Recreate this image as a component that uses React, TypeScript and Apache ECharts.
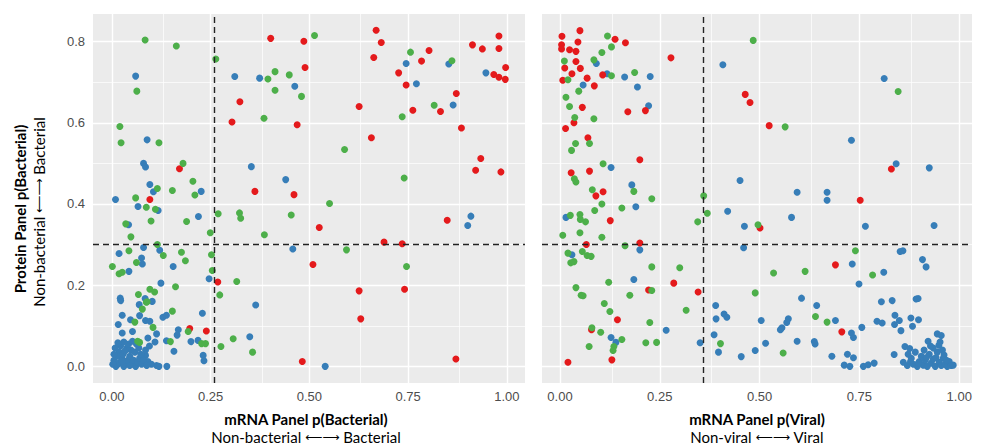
import React, { useEffect, useRef } from "react";
import * as echarts from "echarts";

const xTicks = [0, 0.25, 0.5, 0.75, 1];
const xMinor = [0.125, 0.375, 0.625, 0.875];
const yTicks = [0, 0.2, 0.4, 0.6, 0.8];
const yMinor = [0.1, 0.3, 0.5, 0.7];

const leftCut = { x: 0.262, y: 0.3 };
const rightCut = { x: 0.361, y: 0.3 };

const ARROW = "\u27F5\u27F6";
const leftTitle = "mRNA Panel p(Bacterial)";
const leftSub = ["Non-bacterial", "Bacterial"];
const rightTitle = "mRNA Panel p(Viral)";
const rightSub = ["Non-viral", "Viral"];
const yTitle = "Protein Panel p(Bacterial)";
const ySub = ["Non-bacterial", "Bacterial"];

const leftRed = [
  [0.402, 0.808], [0.324, 0.652], [0.304, 0.602], [0.469, 0.595], [0.171, 0.487], [0.362, 0.431], [0.461, 0.423], [0.096, 0.411],
  [0.486, 0.801], [0.489, 0.736], [0.669, 0.828], [0.682, 0.798], [0.663, 0.761], [0.803, 0.778], [0.784, 0.752], [0.726, 0.723],
  [0.745, 0.693], [0.913, 0.792], [0.938, 0.782], [0.98, 0.814], [0.98, 0.783], [0.997, 0.736], [0.967, 0.719], [0.98, 0.712],
  [0.996, 0.707], [0.872, 0.672], [0.832, 0.628], [0.762, 0.631], [0.626, 0.64], [0.885, 0.587], [0.657, 0.563], [0.934, 0.512],
  [0.921, 0.483], [0.985, 0.479], [0.268, 0.208], [0.197, 0.093], [0.239, 0.087], [0.482, 0.012], [0.525, 0.342], [0.689, 0.306],
  [0.735, 0.302], [0.509, 0.251], [0.626, 0.186], [0.741, 0.19], [0.63, 0.117], [0.871, 0.018], [0.849, 0.36],
];

const leftBlue = [
  [0.06, 0.715], [0.311, 0.714], [0.374, 0.71], [0.463, 0.69], [0.089, 0.558], [0.08, 0.5], [0.085, 0.491], [0.353, 0.492],
  [0.44, 0.46], [0.096, 0.448], [0.105, 0.43], [0.226, 0.431], [0.009, 0.411], [0.745, 0.746], [0.771, 0.696], [0.853, 0.745],
  [0.947, 0.723], [0.864, 0.644], [0.066, 0.394], [0.117, 0.384], [0.219, 0.369], [0.042, 0.349], [0.458, 0.289], [0.018, 0.278],
  [0.08, 0.293], [0.121, 0.286], [0.075, 0.267], [0.077, 0.252], [0.155, 0.246], [0.043, 0.234], [0.246, 0.216], [0.124, 0.205],
  [0.021, 0.168], [0.022, 0.162], [0.084, 0.167], [0.102, 0.16], [0.069, 0.152], [0.229, 0.131], [0.364, 0.151], [0.026, 0.126],
  [0.047, 0.115], [0.07, 0.125], [0.129, 0.121], [0.138, 0.126], [0.085, 0.113], [0.096, 0.111], [0.016, 0.103], [0.168, 0.09],
  [0.165, 0.077], [0.052, 0.086], [0.026, 0.082], [0.113, 0.08], [0.091, 0.07], [0.138, 0.063], [0.109, 0.06], [0.2, 0.061],
  [0.218, 0.064], [0.349, 0.073], [0.157, 0.037], [0.231, 0.027], [0.233, 0.014], [0.139, 0.0], [0.085, 0.027], [0.091, 0.012],
  [0.113, 0.002], [0.119, 0.0], [0.54, 0.0], [0.901, 0.347], [0.909, 0.37],
  [0.01, 0.0], [0.015, 0.005], [0.02, 0.01], [0.005, 0.015], [0.025, 0.02], [0.03, 0.0], [0.035, 0.008], [0.04, 0.015],
  [0.012, 0.025], [0.018, 0.035], [0.028, 0.03], [0.045, 0.025], [0.05, 0.005], [0.055, 0.015], [0.06, 0.0], [0.065, 0.01],
  [0.07, 0.02], [0.048, 0.04], [0.038, 0.045], [0.022, 0.05], [0.008, 0.045], [0.058, 0.035], [0.075, 0.005], [0.08, 0.015],
  [0.068, 0.045], [0.042, 0.055], [0.03, 0.06], [0.015, 0.058], [0.062, 0.055], [0.085, 0.04], [0.095, 0.05], [0.1, 0.005],
  [0.002, 0.005], [0.033, 0.038], [0.052, 0.062], [0.088, 0.002], [0.005, 0.03], [0.073, 0.03], [0.026, 0.012], [0.045, 0.002],
];

const leftGreen = [
  [0.084, 0.804], [0.163, 0.789], [0.263, 0.757], [0.063, 0.678], [0.395, 0.708], [0.413, 0.726], [0.413, 0.68], [0.449, 0.718],
  [0.48, 0.665], [0.385, 0.611], [0.02, 0.591], [0.023, 0.551], [0.119, 0.551], [0.18, 0.5], [0.205, 0.456], [0.115, 0.438],
  [0.153, 0.433], [0.21, 0.422], [0.06, 0.415], [0.513, 0.815], [0.756, 0.774], [0.861, 0.753], [0.816, 0.643], [0.735, 0.615],
  [0.589, 0.534], [0.74, 0.464], [0.087, 0.392], [0.11, 0.387], [0.189, 0.357], [0.099, 0.358], [0.035, 0.351], [0.048, 0.319],
  [0.249, 0.329], [0.269, 0.376], [0.323, 0.378], [0.326, 0.365], [0.386, 0.324], [0.454, 0.373], [0.043, 0.285], [0.115, 0.3],
  [0.13, 0.273], [0.176, 0.281], [0.186, 0.26], [0.062, 0.256], [0.001, 0.246], [0.018, 0.228], [0.026, 0.232], [0.252, 0.275],
  [0.254, 0.236], [0.316, 0.209], [0.273, 0.176], [0.161, 0.196], [0.096, 0.19], [0.108, 0.183], [0.067, 0.177], [0.089, 0.159],
  [0.077, 0.141], [0.153, 0.136], [0.058, 0.109], [0.104, 0.096], [0.193, 0.086], [0.148, 0.061], [0.227, 0.056], [0.237, 0.056],
  [0.307, 0.068], [0.276, 0.049], [0.356, 0.035], [0.551, 0.401], [0.594, 0.287], [0.746, 0.246], [0.087, 0.158], [0.07, 0.059],
  [0.065, 0.062],
];

const rightRed = [
  [0.005, 0.813], [0.05, 0.827], [0.138, 0.806], [0.045, 0.799], [0.164, 0.797], [0.004, 0.792], [0.004, 0.782], [0.024, 0.78],
  [0.04, 0.776], [0.04, 0.751], [0.278, 0.76], [0.012, 0.735], [0.051, 0.734], [0.03, 0.721], [0.107, 0.718], [0.068, 0.71],
  [0.007, 0.705], [0.086, 0.691], [0.464, 0.67], [0.476, 0.65], [0.056, 0.638], [0.214, 0.63], [0.17, 0.627], [0.035, 0.6],
  [0.014, 0.586], [0.07, 0.563], [0.2, 0.509], [0.028, 0.477], [0.074, 0.481], [0.108, 0.43], [0.09, 0.42], [0.524, 0.593],
  [0.83, 0.486], [0.752, 0.409], [0.501, 0.341], [0.69, 0.25], [0.706, 0.085], [0.126, 0.359], [0.066, 0.3], [0.2, 0.304],
  [0.285, 0.205], [0.222, 0.188], [0.346, 0.183], [0.144, 0.115], [0.079, 0.09], [0.13, 0.016], [0.02, 0.01],
];

const rightBlue = [
  [0.091, 0.746], [0.408, 0.743], [0.118, 0.721], [0.162, 0.713], [0.226, 0.714], [0.058, 0.693], [0.194, 0.688], [0.222, 0.642],
  [0.128, 0.49], [0.18, 0.447], [0.451, 0.458], [0.812, 0.709], [0.73, 0.557], [0.842, 0.499], [0.925, 0.489], [0.594, 0.429],
  [0.669, 0.429], [0.669, 0.409], [0.58, 0.367], [0.765, 0.345], [0.937, 0.347], [0.852, 0.283], [0.859, 0.285], [0.908, 0.263],
  [0.917, 0.245], [0.732, 0.252], [0.811, 0.232], [0.749, 0.203], [0.605, 0.168], [0.643, 0.15], [0.805, 0.159], [0.832, 0.162],
  [0.892, 0.166], [0.897, 0.167], [0.69, 0.113], [0.504, 0.113], [0.572, 0.117], [0.568, 0.108], [0.556, 0.095], [0.552, 0.09],
  [0.794, 0.111], [0.807, 0.107], [0.839, 0.126], [0.85, 0.113], [0.838, 0.103], [0.854, 0.088], [0.879, 0.119], [0.898, 0.115],
  [0.883, 0.099], [0.73, 0.082], [0.735, 0.071], [0.756, 0.096], [0.515, 0.057], [0.594, 0.062], [0.637, 0.061], [0.639, 0.055],
  [0.681, 0.025], [0.72, 0.03], [0.735, 0.021], [0.712, 0.003], [0.726, 0.0], [0.76, 0.0], [0.772, 0.004], [0.787, 0.008],
  [0.489, 0.039], [0.837, 0.029], [0.945, 0.08], [0.955, 0.076], [0.922, 0.062], [0.949, 0.052], [0.864, 0.049], [0.876, 0.044],
  [0.19, 0.393], [0.015, 0.367], [0.42, 0.382], [0.462, 0.345], [0.46, 0.292], [0.2, 0.287], [0.03, 0.275], [0.185, 0.214],
  [0.39, 0.15], [0.391, 0.117], [0.411, 0.129], [0.418, 0.121], [0.128, 0.071], [0.14, 0.059], [0.266, 0.089], [0.351, 0.058],
  [0.386, 0.078], [0.397, 0.035], [0.454, 0.024],
  [0.86, 0.01], [0.87, 0.002], [0.88, 0.02], [0.885, 0.005], [0.895, 0.0], [0.9, 0.012], [0.905, 0.025], [0.91, 0.003],
  [0.915, 0.015], [0.92, 0.0], [0.925, 0.03], [0.93, 0.008], [0.935, 0.018], [0.94, 0.0], [0.945, 0.035], [0.95, 0.01],
  [0.955, 0.002], [0.96, 0.02], [0.965, 0.005], [0.97, 0.0], [0.975, 0.012], [0.98, 0.002], [0.872, 0.03], [0.89, 0.035],
  [0.912, 0.04], [0.935, 0.045], [0.958, 0.04], [0.962, 0.028], [0.942, 0.022], [0.918, 0.022], [0.898, 0.008], [0.878, 0.012],
  [0.952, 0.06], [0.928, 0.05], [0.968, 0.015], [0.985, 0.003],
];

const rightGreen = [
  [0.119, 0.814], [0.129, 0.787], [0.105, 0.773], [0.011, 0.752], [0.085, 0.755], [0.484, 0.803], [0.187, 0.724], [0.129, 0.716],
  [0.02, 0.706], [0.047, 0.678], [0.015, 0.663], [0.024, 0.64], [0.037, 0.613], [0.085, 0.61], [0.039, 0.549], [0.074, 0.549],
  [0.029, 0.532], [0.108, 0.499], [0.036, 0.462], [0.04, 0.454], [0.185, 0.431], [0.081, 0.435], [0.23, 0.413], [0.36, 0.42],
  [0.847, 0.677], [0.564, 0.59], [0.496, 0.349], [0.74, 0.285], [0.535, 0.23], [0.614, 0.234], [0.783, 0.225], [0.489, 0.181],
  [0.64, 0.123], [0.669, 0.109], [0.559, 0.033], [0.155, 0.39], [0.105, 0.4], [0.087, 0.384], [0.026, 0.372], [0.05, 0.374],
  [0.051, 0.362], [0.064, 0.356], [0.007, 0.323], [0.05, 0.329], [0.105, 0.318], [0.163, 0.297], [0.369, 0.377], [0.345, 0.356],
  [0.02, 0.279], [0.056, 0.283], [0.068, 0.273], [0.078, 0.271], [0.027, 0.255], [0.035, 0.258], [0.23, 0.245], [0.3, 0.243],
  [0.122, 0.207], [0.23, 0.187], [0.04, 0.194], [0.053, 0.175], [0.058, 0.174], [0.175, 0.175], [0.111, 0.155], [0.125, 0.135],
  [0.316, 0.138], [0.225, 0.108], [0.08, 0.095], [0.102, 0.084], [0.155, 0.066], [0.073, 0.049], [0.135, 0.049], [0.133, 0.039],
  [0.215, 0.058], [0.242, 0.059], [0.402, 0.056],
];

const RED = "#E41A1C";
const BLUE = "#377EB8";
const GREEN = "#4DAF4A";
const TITLE_FONT = "Lato, 'Open Sans', sans-serif";
const TICK_FONT = "'Liberation Sans', Arial, sans-serif";

function gridLineData() {
  const major = { color: "#ffffff", width: 1.4, type: "solid" as const };
  const minor = { color: "#ffffff", width: 0.7, type: "solid" as const };
  return [
    ...xMinor.map((v) => ({ xAxis: v, lineStyle: minor })),
    ...yMinor.map((v) => ({ yAxis: v, lineStyle: minor })),
    ...xTicks.map((v) => ({ xAxis: v, lineStyle: major })),
    ...yTicks.map((v) => ({ yAxis: v, lineStyle: major })),
  ];
}

function cutData(cut: { x: number; y: number }) {
  const st = { color: "#222222", width: 1.4, type: [6, 4] as any };
  return [
    { xAxis: cut.x, lineStyle: st },
    { yAxis: cut.y, lineStyle: st },
  ];
}

function panelSeries(i: number, red: number[][], blue: number[][], green: number[][], cut: { x: number; y: number }) {
  const common = {
    type: "scatter" as const,
    xAxisIndex: i,
    yAxisIndex: i,
    symbolSize: 7,
    silent: true,
    z: 2,
  };
  return [
    {
      ...common,
      name: "blue" + i,
      data: blue,
      itemStyle: { color: BLUE, opacity: 1 },
      markLine: {
        silent: true,
        symbol: "none",
        z: 1,
        animation: false,
        label: { show: false },
        emphasis: { disabled: true },
        data: gridLineData(),
      },
    },
    {
      ...common,
      name: "red" + i,
      data: red,
      itemStyle: { color: RED, opacity: 1 },
      markLine: {
        silent: true,
        symbol: "none",
        z: 5,
        animation: false,
        label: { show: false },
        emphasis: { disabled: true },
        data: cutData(cut),
      },
    },
    {
      ...common,
      name: "green" + i,
      data: green,
      itemStyle: { color: GREEN, opacity: 1 },
    },
  ];
}

const richSub = {
  w: { fontFamily: TITLE_FONT, fontSize: 15, lineHeight: 14, color: "#000" },
  a: { fontFamily: "'DejaVu Sans', sans-serif", fontSize: 12, lineHeight: 14, color: "#000" },
};

function subText(parts: string[]) {
  return `{w|${parts[0]} }{a|${ARROW}}{w| ${parts[1]}}`;
}

export default function App() {
  const ref = useRef<HTMLDivElement>(null);
  useEffect(() => {
    if (!ref.current) return;
    const chart = echarts.init(ref.current, undefined, { renderer: "svg" });
    const xRanges = [
      { min: -0.048, max: 1.046 },
      { min: -0.045, max: 1.032 },
    ];
    const boldStyle = (text: string) => ({
      text,
      font: `bold 15px ${TITLE_FONT}`,
      fill: "#000",
      align: "center",
      verticalAlign: "middle",
    });
    const subStyle = (parts: string[]) => ({
      text: subText(parts),
      rich: richSub,
      fill: "#000",
      align: "center",
      verticalAlign: "middle",
    });
    const option: any = {
      animation: false,
      backgroundColor: "#ffffff",
      grid: [
        { left: 93, top: 14, width: 432, height: 369, show: true, backgroundColor: "#EBEBEB", borderWidth: 0 },
        { left: 542, top: 14, width: 430, height: 369, show: true, backgroundColor: "#EBEBEB", borderWidth: 0 },
      ],
      xAxis: [0, 1].map((i) => ({
        type: "value",
        gridIndex: i,
        min: xRanges[i].min,
        max: xRanges[i].max,
        splitLine: { show: false },
        axisLine: { show: false },
        axisTick: { show: true, customValues: xTicks, length: 4, lineStyle: { color: "#333333", width: 1 } },
        axisLabel: {
          customValues: xTicks,
          formatter: (v: number) => v.toFixed(2),
          color: "#4D4D4D",
          fontSize: 13,
          fontFamily: TICK_FONT,
          margin: 7,
        },
      })),
      yAxis: [0, 1].map((i) => ({
        type: "value",
        gridIndex: i,
        min: -0.041,
        max: 0.868,
        splitLine: { show: false },
        axisLine: { show: false },
        axisTick: { show: i === 0, customValues: yTicks, length: 4, lineStyle: { color: "#333333", width: 1 } },
        axisLabel: {
          show: i === 0,
          customValues: yTicks,
          formatter: (v: number) => v.toFixed(1),
          color: "#4D4D4D",
          fontSize: 13,
          fontFamily: TICK_FONT,
          margin: 8,
        },
      })),
      graphic: [
        { type: "text", x: 306, y: 419, style: boldStyle(leftTitle) },
        { type: "text", x: 306, y: 437, style: subStyle(leftSub) },
        { type: "text", x: 757, y: 419, style: boldStyle(rightTitle) },
        { type: "text", x: 757, y: 437, style: subStyle(rightSub) },
        { type: "text", x: 20, y: 209, rotation: Math.PI / 2, style: boldStyle(yTitle) },
        { type: "text", x: 39, y: 212, rotation: Math.PI / 2, style: subStyle(ySub) },
      ],
      series: [
        ...panelSeries(0, leftRed, leftBlue, leftGreen, leftCut),
        ...panelSeries(1, rightRed, rightBlue, rightGreen, rightCut),
      ],
    };
    chart.setOption(option);
    return () => chart.dispose();
  }, []);
  return (
    <div
      ref={ref}
      style={{ position: "fixed", left: 0, top: 0, width: 984, height: 446, background: "#fff" }}
    />
  );
}
